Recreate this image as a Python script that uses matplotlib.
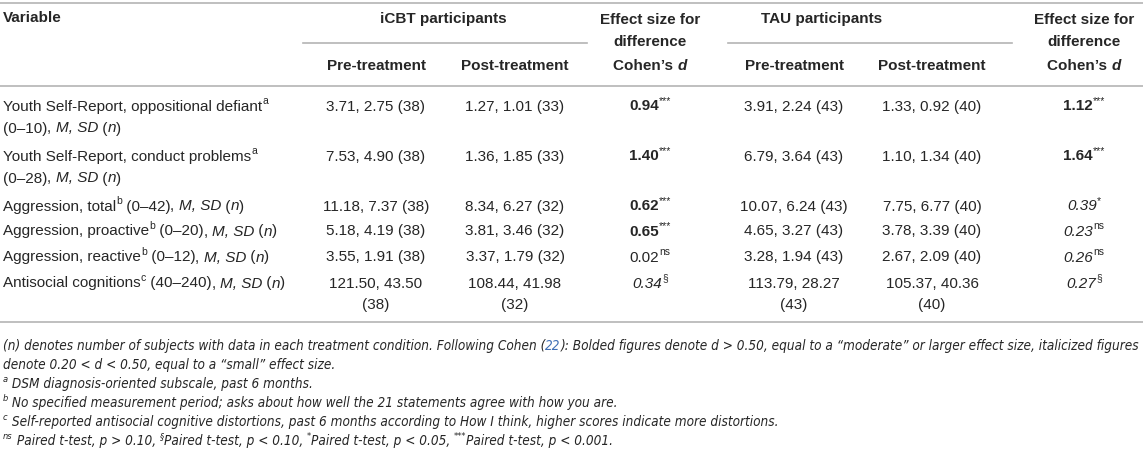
import matplotlib
matplotlib.use('Agg')
import matplotlib.pyplot as plt
from matplotlib import font_manager
from matplotlib.lines import Line2D
from matplotlib.transforms import IdentityTransform

W, H = 1143, 453
FONT = 'Liberation Sans'
# a narrow face for the notes if one is installed
entries = font_manager.fontManager.ttflist
NOTE_FONT, NOTE_STRETCH = FONT, 'normal'
if any(f.name == 'Liberation Sans Narrow' for f in entries):
    NOTE_FONT = 'Liberation Sans Narrow'
elif any(f.name == 'DejaVu Sans' and f.stretch == 'condensed' and f.style != 'normal' for f in entries):
    NOTE_FONT, NOTE_STRETCH = 'DejaVu Sans', 'condensed'
FS = 11.0
INK = '#262626'
RULE = '#b4b4b4'
LINK = '#3f6fb5'

# ---- table data ----
variables = ['Youth Self-Report, oppositional defiant', 'Youth Self-Report, conduct problems',
             'Aggression, total', 'Aggression, proactive', 'Aggression, reactive',
             'Antisocial cognitions']
var_notes = ['a', 'a', 'b', 'b', 'b', 'c']
var_ranges = ['(0–10)', '(0–28)', '(0–42)', '(0–20)', '(0–12)', '(40–240)']

icbt_pre_m = [3.71, 7.53, 11.18, 5.18, 3.55, 121.50]
icbt_pre_sd = [2.75, 4.90, 7.37, 4.19, 1.91, 43.50]
icbt_pre_n = [38, 38, 38, 38, 38, 38]
icbt_post_m = [1.27, 1.36, 8.34, 3.81, 3.37, 108.44]
icbt_post_sd = [1.01, 1.85, 6.27, 3.46, 1.79, 41.98]
icbt_post_n = [33, 33, 32, 32, 32, 32]
icbt_d = [0.94, 1.40, 0.62, 0.65, 0.02, 0.34]
icbt_sig = ['***', '***', '***', '***', 'ns', '§']

tau_pre_m = [3.91, 6.79, 10.07, 4.65, 3.28, 113.79]
tau_pre_sd = [2.24, 3.64, 6.24, 3.27, 1.94, 28.27]
tau_pre_n = [43, 43, 43, 43, 43, 43]
tau_post_m = [1.33, 1.10, 7.75, 3.78, 2.67, 105.37]
tau_post_sd = [0.92, 1.34, 6.77, 3.39, 2.09, 40.36]
tau_post_n = [40, 40, 40, 40, 40, 40]
tau_d = [1.12, 1.64, 0.39, 0.23, 0.26, 0.27]
tau_sig = ['***', '***', '*', 'ns', 'ns', '§']

# ---- layout ----
row_y = [105, 155, 205, 230, 256, 282]
line_gap = 22
col_x = {'icbt_pre': 376, 'icbt_post': 515, 'icbt_d': 650,
         'tau_pre': 794, 'tau_post': 932, 'tau_d': 1084}

fig = plt.figure(figsize=(W / 100, H / 100), dpi=100)
fig.patch.set_facecolor('white')
renderer = fig.canvas.get_renderer()
ID = IdentityTransform()


def put(x, y, runs, size=FS, ha='left', family=FONT, stretch='normal'):
    # runs: (text, style) with b=bold, i=italic, s=superscript, c=link colour
    em = size * 100 / 72
    arts = []
    for txt, st in runs:
        fs = size * 0.68 if 's' in st else size
        t = fig.text(0, 0, txt, fontsize=fs, family=family, fontstretch=stretch,
                     fontweight='bold' if 'b' in st else 'normal',
                     fontstyle='italic' if 'i' in st else 'normal',
                     color=LINK if 'c' in st else INK,
                     va='baseline', ha='left', transform=ID)
        w = t.get_window_extent(renderer).width
        arts.append((t, w, st))
    total = sum(a[1] for a in arts)
    x0 = x - total / 2 if ha == 'center' else x
    base = H - (y + 0.36 * em)
    for t, w, st in arts:
        t.set_position((x0, base + (0.40 * em if 's' in st else 0)))
        x0 += w
    return total


def text_width(s, size=FS, weight='normal'):
    t = fig.text(0, 0, s, fontsize=size, family=FONT, fontweight=weight, transform=ID)
    w = t.get_window_extent(renderer).width
    t.remove()
    return w


def hline(y, x0=0, x1=W):
    fig.add_artist(Line2D([x0, x1], [H - y, H - y], transform=ID, color=RULE, lw=1.2))


# rules
hline(3)
hline(86)
hline(322)
hline(43, 303, 587)
hline(43, 728, 1012)

# header
put(3, 17, [('Variable', 'b')])
put(443, 17, [('iCBT participants', 'b')], ha='center')
put(822, 17, [('TAU participants', 'b')], ha='center')
for key in ['icbt_d', 'tau_d']:
    put(col_x[key], 18, [('Effect size for', 'b')], ha='center')
    put(col_x[key], 41, [('difference', 'b')], ha='center')
    put(col_x[key], 64, [('Cohen’s ', 'b'), ('d', 'bi')], ha='center')
for key in ['icbt_pre', 'tau_pre']:
    put(col_x[key], 64, [('Pre-treatment', 'b')], ha='center')
for key in ['icbt_post', 'tau_post']:
    put(col_x[key], 64, [('Post-treatment', 'b')], ha='center')

msd = [(', ', ''), ('M, SD', 'i'), (' (', ''), ('n', 'i'), (')', '')]

for i, y in enumerate(row_y):
    # variable label, wrapped when it is too long for the first column
    first = [(variables[i], ''), (var_notes[i], 's')]
    if len(variables[i]) > 25:
        put(3, y, first)
        put(3, y + line_gap, [(var_ranges[i], '')] + msd)
    else:
        put(3, y, first + [(' ' + var_ranges[i], '')] + msd)

    cells = [('icbt_pre', icbt_pre_m, icbt_pre_sd, icbt_pre_n),
             ('icbt_post', icbt_post_m, icbt_post_sd, icbt_post_n),
             ('tau_pre', tau_pre_m, tau_pre_sd, tau_pre_n),
             ('tau_post', tau_post_m, tau_post_sd, tau_post_n)]
    for key, m, sd, n in cells:
        s = f'{m[i]:.2f}, {sd[i]:.2f} ({n[i]})'
        if text_width(s) > 116:
            put(col_x[key], y, [(f'{m[i]:.2f}, {sd[i]:.2f}', '')], ha='center')
            put(col_x[key], y + line_gap, [(f'({n[i]})', '')], ha='center')
        else:
            put(col_x[key], y, [(s, '')], ha='center')

    for key, d, sig in [('icbt_d', icbt_d, icbt_sig), ('tau_d', tau_d, tau_sig)]:
        st = 'b' if d[i] > 0.5 else ('i' if d[i] > 0.2 else '')
        put(col_x[key], y, [(f'{d[i]:.2f}', st), (sig[i], 's')], ha='center')

# footnotes
notes = [
    [('(n) denotes number of subjects with data in each treatment condition. Following Cohen (', 'i'),
     ('22', 'ic'),
     ('): Bolded figures denote d > 0.50, equal to a “moderate” or larger effect size, italicized figures', 'i')],
    [('denote 0.20 < d < 0.50, equal to a “small” effect size.', 'i')],
    [('a', 'si'), (' DSM diagnosis-oriented subscale, past 6 months.', 'i')],
    [('b', 'si'), (' No specified measurement period; asks about how well the 21 statements agree with how you are.', 'i')],
    [('c', 'si'), (' Self-reported antisocial cognitive distortions, past 6 months according to How I think, higher scores indicate more distortions.', 'i')],
    [('ns', 'si'), (' Paired t-test, p > 0.10, ', 'i'), ('§', 'si'), ('Paired t-test, p < 0.10, ', 'i'),
     ('*', 'si'), ('Paired t-test, p < 0.05, ', 'i'), ('***', 'si'), ('Paired t-test, p < 0.001.', 'i')],
]

# size the notes so the first line spans the table width
probe = fig.text(0, 0, ''.join(r[0] for r in notes[0]), fontsize=10, family=NOTE_FONT,
                 fontstretch=NOTE_STRETCH, fontstyle='italic', transform=ID)
note_fs = 10 * 1135 / probe.get_window_extent(renderer).width
probe.remove()

note_y = [345, 364, 383, 402, 421, 440]
for runs, y in zip(notes, note_y):
    put(3, y, runs, size=note_fs, family=NOTE_FONT, stretch=NOTE_STRETCH)

fig.savefig('out.png', dpi=100, facecolor='white')
